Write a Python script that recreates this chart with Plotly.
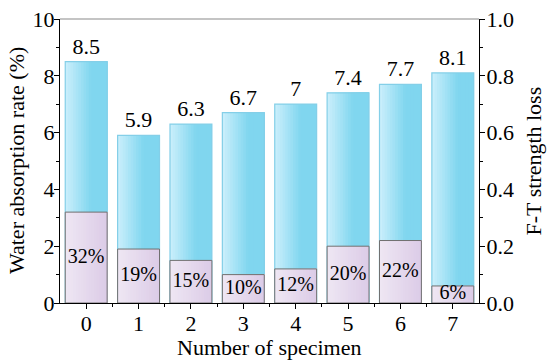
import plotly.graph_objects as go

specimens = [0, 1, 2, 3, 4, 5, 6, 7]
water_absorption = [8.5, 5.9, 6.3, 6.7, 7.0, 7.4, 7.7, 8.1]
water_labels = ["8.5", "5.9", "6.3", "6.7", "7", "7.4", "7.7", "8.1"]
ft_loss = [0.32, 0.19, 0.15, 0.10, 0.12, 0.20, 0.22, 0.06]
ft_labels = ["32%", "19%", "15%", "10%", "12%", "20%", "22%", "6%"]

FONT = '"Times New Roman", "Liberation Serif", Tinos, serif'
BAR_W = 0.8
N_SLICES = 16


def lerp(c1, c2, t):
    return "rgb(%d,%d,%d)" % tuple(round(a + (b - a) * t) for a, b in zip(c1, c2))


BLUE_L, BLUE_R = (200, 238, 251), (128, 214, 239)
PURP_L, PURP_R = (238, 230, 243), (220, 204, 231)

fig = go.Figure()

# gradient bodies (style only: overlapping slices of the same data bars)
sw = BAR_W / N_SLICES
for i in range(N_SLICES):
    t = min(1.0, 1.6 * i / (N_SLICES - 1))
    fig.add_trace(go.Bar(
        x=specimens, y=water_absorption, width=BAR_W - i * sw, offset=-BAR_W / 2 + i * sw,
        marker=dict(color=lerp(BLUE_L, BLUE_R, t), line=dict(width=0)),
        showlegend=False, hoverinfo="skip", yaxis="y"))
fig.add_trace(go.Bar(
    x=specimens, y=water_absorption, width=BAR_W,
    marker=dict(color="rgba(0,0,0,0)", line=dict(color="#84cfe8", width=1.2)),
    text=water_labels, textposition="outside", cliponaxis=False,
    textfont=dict(family=FONT, size=22, color="black"),
    showlegend=False, yaxis="y"))

for i in range(N_SLICES):
    t = i / (N_SLICES - 1)
    fig.add_trace(go.Bar(
        x=specimens, y=ft_loss, width=BAR_W - i * sw, offset=-BAR_W / 2 + i * sw,
        marker=dict(color=lerp(PURP_L, PURP_R, t), line=dict(width=0)),
        showlegend=False, hoverinfo="skip", yaxis="y2"))
fig.add_trace(go.Bar(
    x=specimens, y=ft_loss, width=BAR_W,
    marker=dict(color="rgba(0,0,0,0)", line=dict(color="#707070", width=1)),
    showlegend=False, yaxis="y2"))
fig.add_trace(go.Scatter(
    x=specimens, y=[v / 2 for v in ft_loss], mode="text", text=ft_labels,
    textfont=dict(family=FONT, size=20, color="black"),
    showlegend=False, yaxis="y2", cliponaxis=False))

fig.update_layout(
    width=550, height=364,
    margin=dict(l=60, r=71, t=19, b=61, autoexpand=False),
    paper_bgcolor="white", plot_bgcolor="white",
    barmode="overlay",
    font=dict(family=FONT, size=22, color="black"),
    xaxis=dict(
        range=[-0.5, 7.5], tickmode="array", tickvals=specimens,
        ticks="outside", ticklen=5, tickwidth=1, tickcolor="black",
        minor=dict(tickvals=[0.5, 1.5, 2.5, 3.5, 4.5, 5.5, 6.5], ticks="outside", ticklen=3, tickcolor="black"),
        showline=True, linecolor="black", linewidth=1.2, showgrid=False, zeroline=False,
        automargin=False, tickfont=dict(size=22), ticklabelstandoff=-5),
    yaxis=dict(
        range=[0, 10], dtick=2, ticks="outside", ticklen=5, tickcolor="black",
        minor=dict(dtick=1, ticks="outside", ticklen=3, tickcolor="black"),
        showline=True, linecolor="black", linewidth=1.2, showgrid=False, zeroline=False,
        automargin=False, tickfont=dict(size=22), ticklabelstandoff=-5),
    yaxis2=dict(
        range=[0, 1.0], dtick=0.2, tickformat=".1f", overlaying="y", side="right",
        ticks="outside", ticklen=5, tickcolor="black",
        minor=dict(dtick=0.1, ticks="outside", ticklen=3, tickcolor="black"),
        showline=True, linecolor="black", linewidth=1.2, showgrid=False, zeroline=False,
        automargin=False, tickfont=dict(size=22), ticklabelstandoff=-3),
    shapes=[dict(type="line", xref="paper", yref="paper", x0=0, x1=1, y0=1, y1=1,
                 line=dict(color="#8a8a8a", width=1.2))],
    annotations=[
        dict(text="Number of specimen", xref="paper", yref="paper", x=0.5, y=-0.155,
             xanchor="center", yanchor="middle", showarrow=False, font=dict(size=22)),
        dict(text="Water absorption rate (%)", xref="paper", yref="paper", x=-0.105, y=0.5,
             xanchor="center", yanchor="middle", textangle=-90, showarrow=False, font=dict(size=22)),
        dict(text="F-T strength loss", xref="paper", yref="paper", x=1.13, y=0.5,
             xanchor="center", yanchor="middle", textangle=-90, showarrow=False, font=dict(size=22)),
    ],
)

fig.write_html("out.html", config={"displayModeBar": False},
               post_script="document.body.style.margin='0';")
